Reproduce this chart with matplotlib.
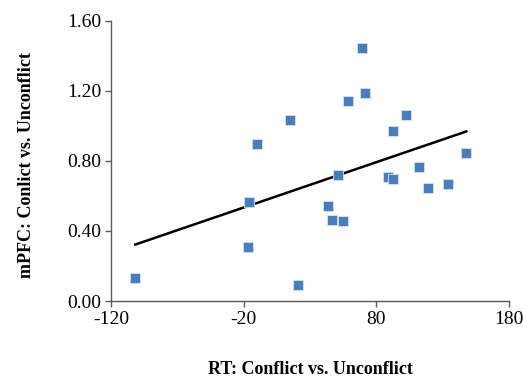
import numpy as np
import matplotlib
matplotlib.use("Agg")
import matplotlib.pyplot as plt

# RT difference (ms) and mPFC activation difference
rt_diff = [-101.7, -16.7, -15.7, -10.2, 14.9, 20.7, 43.3, 46.8, 50.8, 54.6, 58.4,
           68.9, 71.4, 89.0, 92.5, 92.8, 102.4, 112.2, 118.7, 134.0, 147.8]
mpfc_diff = [0.13, 0.306, 0.565, 0.898, 1.035, 0.09, 0.542, 0.46, 0.717, 0.458, 1.14,
             1.446, 1.187, 0.708, 0.969, 0.694, 1.064, 0.765, 0.647, 0.668, 0.843]

x_ticks = [-120, -20, 80, 180]
y_ticks = [0.0, 0.4, 0.8, 1.2, 1.6]

plt.rcParams['font.family'] = ['Liberation Serif', 'DejaVu Serif']
plt.rcParams['axes.unicode_minus'] = False

fig = plt.figure(figsize=(5.23, 3.77), dpi=100)
ax = fig.add_axes([111 / 523, 76 / 377, 398 / 523, 280.3 / 377])

x = np.array(rt_diff)
y = np.array(mpfc_diff)
ax.scatter(x, y, marker='s', s=50, color='#4a7ebb', edgecolors='#d6e1f1',
           linewidths=0.6, zorder=3)

# linear trend line over the data range
slope, intercept = np.polyfit(x, y, 1)
xs = np.array([x.min(), x.max()])
ax.plot(xs, slope * xs + intercept, color='black', lw=1.8, zorder=2)

ax.set_xlim(-120, 180)
ax.set_ylim(0, 1.6)
ax.set_xticks(x_ticks)
ax.set_yticks(y_ticks)
ax.set_yticklabels([f"{v:.2f}" for v in y_ticks])
ax.tick_params(direction='out', length=4, width=1, color='#595959',
               labelsize=14, pad=3)
for side in ['top', 'right']:
    ax.spines[side].set_visible(False)
for side in ['left', 'bottom']:
    ax.spines[side].set_color('#595959')
    ax.spines[side].set_linewidth(1)

fig.text(310 / 523, 1 - 369 / 377, "RT: Conflict vs. Unconflict", ha='center',
         va='center', fontsize=13, fontweight='bold')
fig.text(27 / 523, 1 - 165 / 377, "mPFC: Conlict vs. Unconflict", ha='center',
         va='center', rotation=90, fontsize=13, fontweight='bold')

fig.savefig("out.png", dpi=100)
